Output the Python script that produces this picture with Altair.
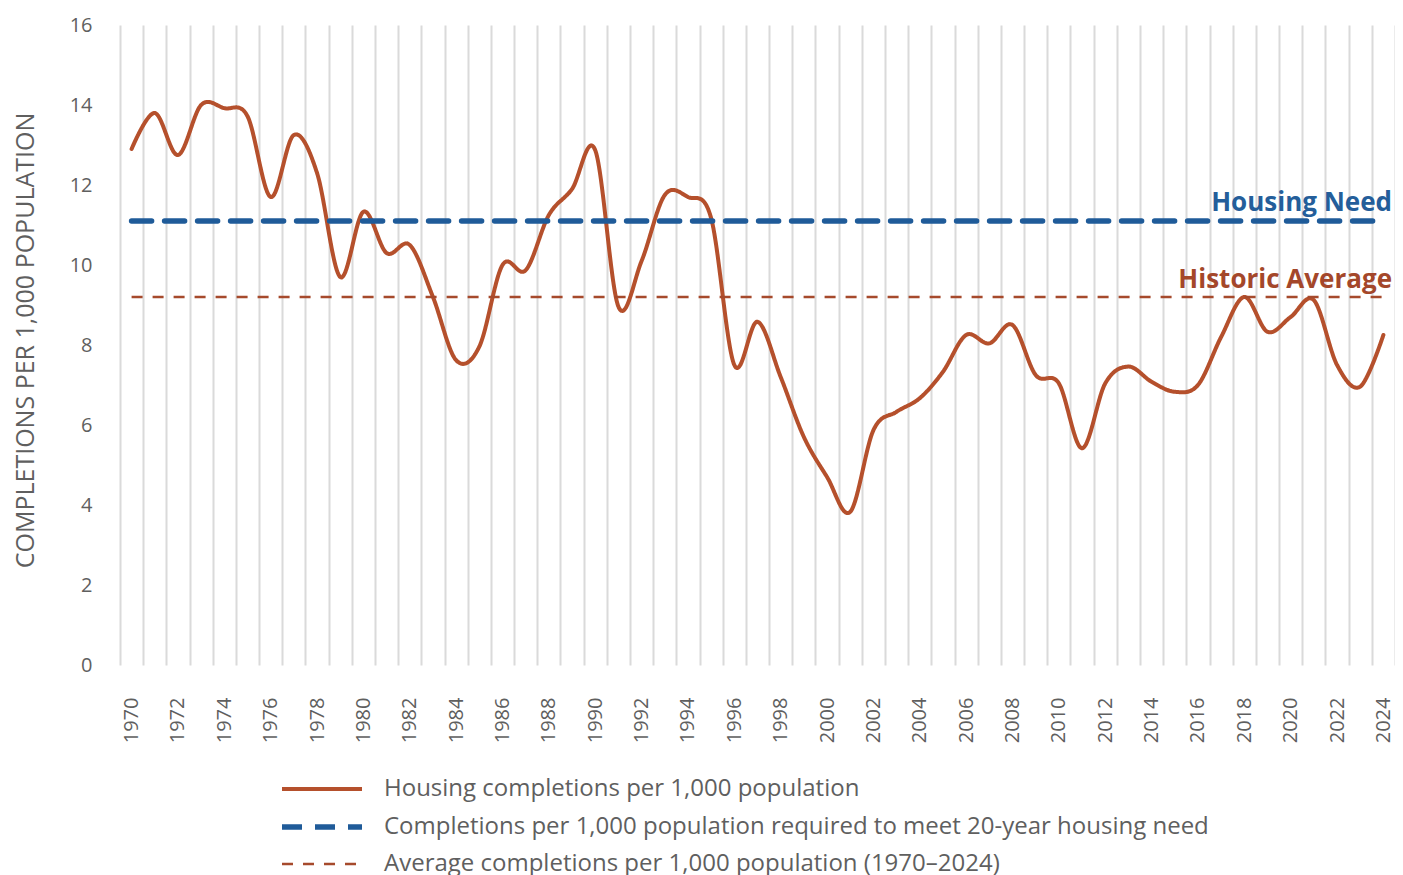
import altair as alt
import pandas as pd

years = list(range(1970, 2025))
completions = [12.9, 13.8, 12.75, 14.0, 13.92, 13.72, 11.7, 13.25, 12.3, 9.7,
               11.33, 10.3, 10.5, 9.2, 7.62, 7.96, 10.0, 9.87, 11.25, 11.9,
               12.87, 8.96, 10.1, 11.75, 11.7, 11.17, 7.5, 8.58, 7.2, 5.7,
               4.7, 3.83, 5.87, 6.33, 6.67, 7.33, 8.25, 8.04, 8.5, 7.25,
               7.04, 5.42, 7.04, 7.46, 7.08, 6.83, 7.0, 8.2, 9.2, 8.33,
               8.7, 9.12, 7.5, 6.96, 8.25]
need_value = 11.1
average_value = 9.2

series_names = [
    "Housing completions per 1,000 population",
    "Completions per 1,000 population required to meet 20-year housing need",
    "Average completions per 1,000 population (1970\u20132024)",
]
series_colors = ["#b5502c", "#1f5b99", "#a64a2c"]
series_dash = [[1, 0], [20, 13], [11, 10]]
series_width = [4, 5.5, 2.4]

annot_labels = ["Housing Need", "Historic Average"]
annot_values = [need_value, average_value]
annot_colors = ["#245e9a", "#a4472a"]

df_main = pd.DataFrame({"year": years, "value": completions, "series": series_names[0]})
df_need = pd.DataFrame({"year": years, "value": [need_value] * len(years), "series": series_names[1]})
df_avg = pd.DataFrame({"year": years, "value": [average_value] * len(years), "series": series_names[2]})

FONT = "Open Sans"
GRAY = "#5f5f5f"

x_enc = alt.X(
    "year:O",
    bandPosition=0.5,
    scale=alt.Scale(type="band", paddingInner=0, paddingOuter=0),
    axis=alt.Axis(
        title=None,
        labelAngle=-90,
        labelExpr="datum.value % 2 == 0 ? datum.label : ''",
        labelOverlap=False,
        labelFontSize=20,
        labelColor=GRAY,
        labelFont=FONT,
        labelPadding=32,
        ticks=False,
        tickSize=0,
        domain=False,
        grid=True,
        gridColor="#dadada",
        gridWidth=2,
        tickBand="extent",
    ),
)
y_enc = alt.Y(
    "value:Q",
    scale=alt.Scale(domain=[0, 16], nice=False, zero=True),
    axis=alt.Axis(
        title="COMPLETIONS PER 1,000 POPULATION",
        values=[0, 2, 4, 6, 8, 10, 12, 14, 16],
        labelFontSize=20,
        labelColor=GRAY,
        labelFont=FONT,
        labelPadding=28,
        ticks=False,
        tickSize=0,
        domain=False,
        grid=False,
        titleFont=FONT,
        titleFontSize=25,
        titleFontWeight="normal",
        titleColor=GRAY,
        titleX=-87,
        titleY=315,
        titleAngle=-90,
        titleAlign="center",
        titleBaseline="alphabetic",
    ),
)

color_enc = alt.Color("series:N", scale=alt.Scale(domain=series_names, range=series_colors), title=None)
dash_enc = alt.StrokeDash("series:N", scale=alt.Scale(type="ordinal", domain=series_names, range=series_dash), title=None)
width_enc = alt.StrokeWidth("series:N", scale=alt.Scale(type="ordinal", domain=series_names, range=series_width), title=None)


def line_layer(df, cap, interp):
    return alt.Chart(df).mark_line(strokeCap=cap, interpolate=interp).encode(
        x=x_enc, y=y_enc, color=color_enc, strokeDash=dash_enc, strokeWidth=width_enc
    )


main = line_layer(df_main, "round", "cardinal")
need = line_layer(df_need, "round", "linear")
avg = line_layer(df_avg, "butt", "linear")

text_layers = []
for lab, val, col, dy in zip(annot_labels, annot_values, annot_colors, [-10, -9]):
    dft = pd.DataFrame({"year": [years[-1]], "value": [val], "label": [lab]})
    t = alt.Chart(dft).mark_text(
        align="right", baseline="alphabetic", dx=-3, dy=dy,
        font=FONT, fontSize=26, fontWeight="bold", color=col,
    ).encode(
        x=alt.X("year:O", bandPosition=1),
        y=alt.Y("value:Q"),
        text="label:N",
    )
    text_layers.append(t)

chart = alt.layer(main, need, avg, *text_layers).properties(
    width=1275,
    height=640,
    autosize=alt.AutoSizeParams(type="none"),
    padding={"left": 112, "top": 17, "right": 0, "bottom": 210},
).configure_view(stroke=None).configure_legend(
    orient="none",
    legendX=189,
    legendY=752,
    direction="vertical",
    symbolType="M-4,0H4",
    symbolSize=400,
    labelFont=FONT,
    labelFontSize=24,
    labelColor=GRAY,
    labelOffset=49,
    rowPadding=13,
    labelLimit=1000,
    title=None,
)

chart.save("out.html", embed_options={"renderer": "svg", "actions": False})
